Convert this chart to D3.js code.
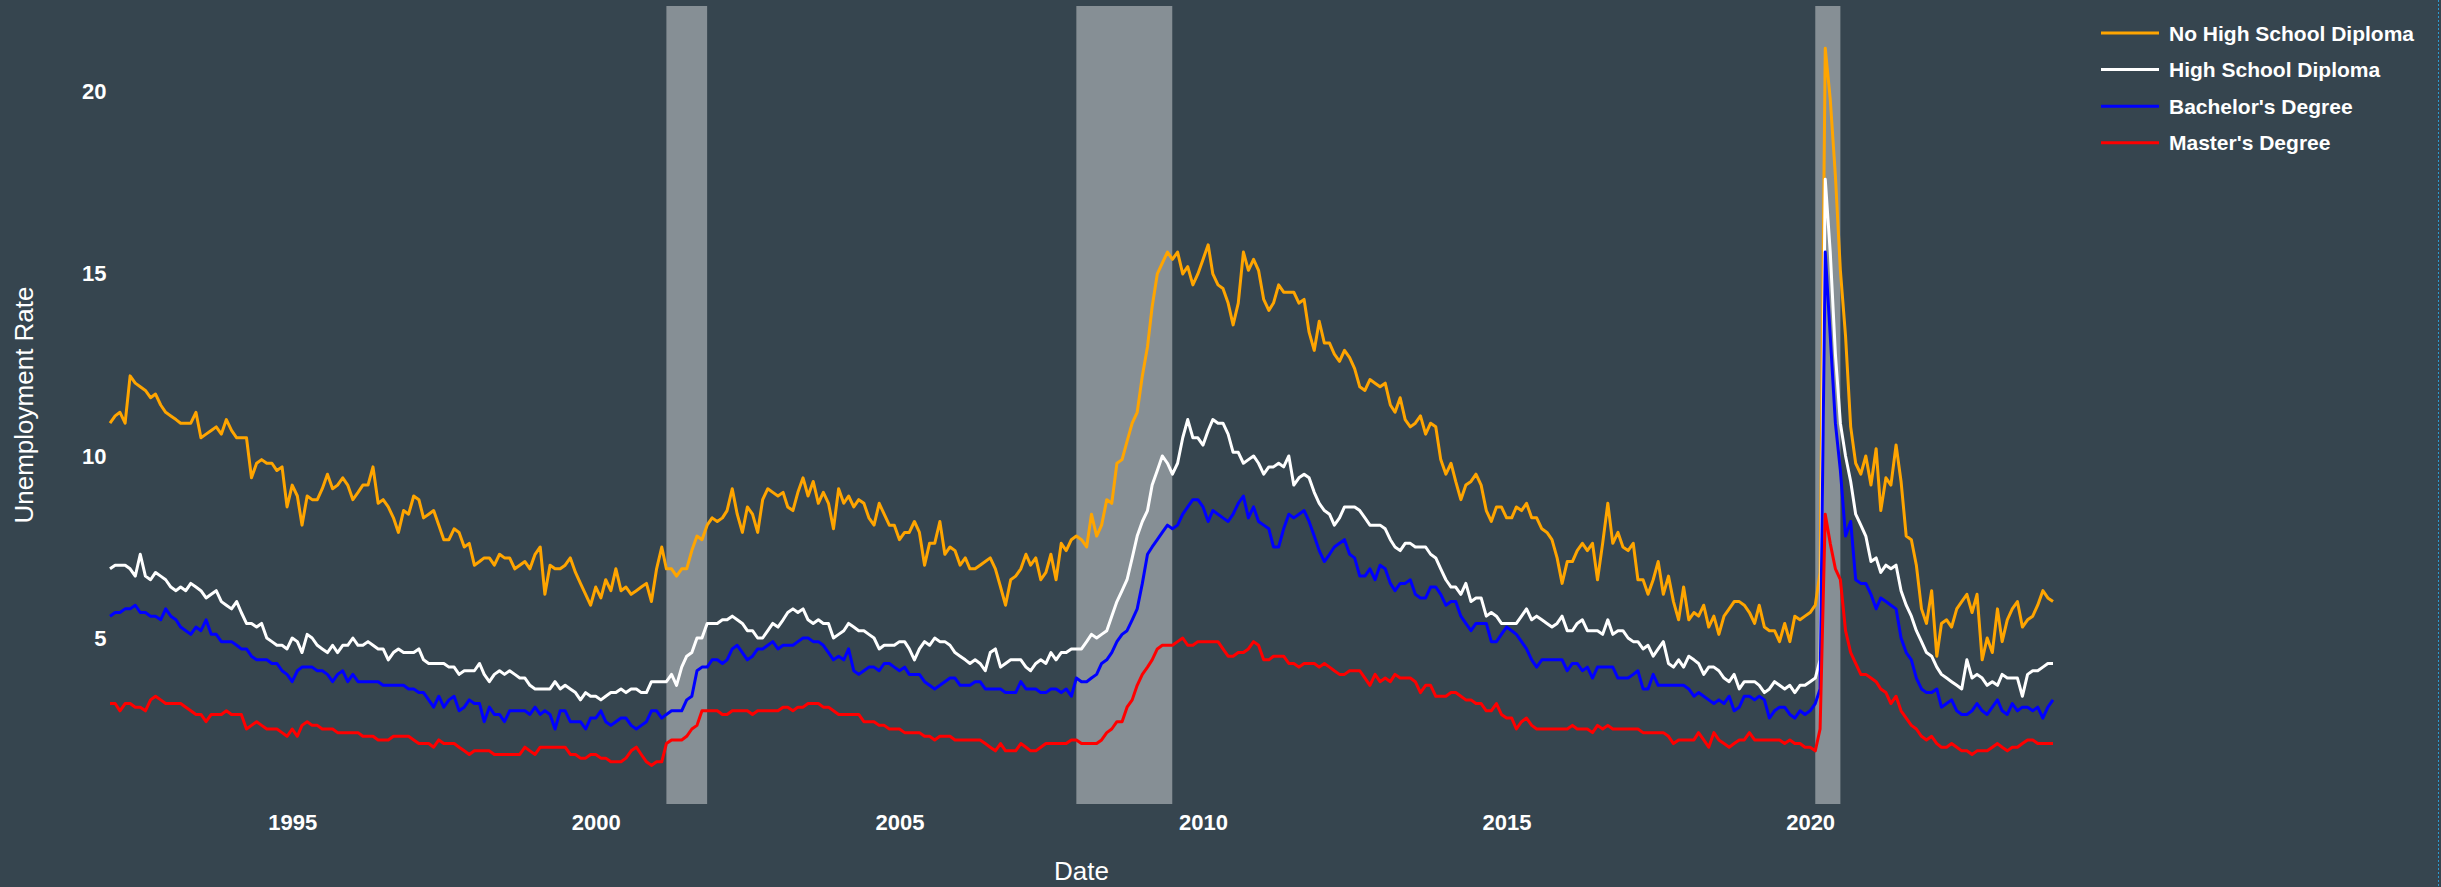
<!DOCTYPE html>
<html>
<head>
<meta charset="utf-8">
<script src="https://cdn.jsdelivr.net/npm/d3@7"></script>
<style>
  body { margin: 0; background: #36454f; overflow: hidden; }
  svg { display: block; }
  text { font-family: "Liberation Sans", Arial, sans-serif; fill: #ffffff; }
</style>
</head>
<body>
<div id="chart"></div>
<script>
// monthly series, Jan 1992 .. Jan 2024 (one line per year)
const firstMonth = "1992-01-01"
const lastMonth = "2024-01-01"

const noHighSchool = [
  10.9, 11.1, 11.2, 10.9, 12.2, 12.0, 11.9, 11.8, 11.6, 11.7, 11.4, 11.2,
  11.1, 11.0, 10.9, 10.9, 10.9, 11.2, 10.5, 10.6, 10.7, 10.8, 10.6, 11.0,
  10.7, 10.5, 10.5, 10.5, 9.4, 9.8, 9.9, 9.8, 9.8, 9.6, 9.7, 8.6,
  9.2, 8.9, 8.1, 8.9, 8.8, 8.8, 9.1, 9.5, 9.1, 9.2, 9.4, 9.2,
  8.8, 9.0, 9.2, 9.2, 9.7, 8.7, 8.8, 8.6, 8.3, 7.9, 8.5, 8.4,
  8.9, 8.8, 8.3, 8.4, 8.5, 8.1, 7.7, 7.7, 8.0, 7.9, 7.5, 7.6,
  7.0, 7.1, 7.2, 7.2, 7.0, 7.3, 7.2, 7.2, 6.9, 7.0, 7.1, 6.9,
  7.3, 7.5, 6.2, 7.0, 6.9, 6.9, 7.0, 7.2, 6.8, 6.5, 6.2, 5.9,
  6.4, 6.1, 6.6, 6.3, 6.9, 6.3, 6.4, 6.2, 6.3, 6.4, 6.5, 6.0,
  6.9, 7.5, 6.9, 6.9, 6.7, 6.9, 6.9, 7.4, 7.8, 7.7, 8.1, 8.3,
  8.2, 8.3, 8.5, 9.1, 8.4, 7.9, 8.6, 8.4, 7.9, 8.8, 9.1, 9.0,
  8.9, 9.0, 8.6, 8.5, 9.0, 9.4, 8.9, 9.3, 8.7, 9.0, 8.7, 8.0,
  9.1, 8.7, 8.9, 8.6, 8.8, 8.7, 8.3, 8.1, 8.7, 8.4, 8.1, 8.1,
  7.7, 7.9, 7.9, 8.2, 7.9, 7.0, 7.6, 7.6, 8.2, 7.3, 7.5, 7.4,
  7.0, 7.2, 6.9, 6.9, 7.0, 7.1, 7.2, 6.9, 6.4, 5.9, 6.6, 6.7,
  6.9, 7.3, 7.0, 7.2, 6.6, 6.8, 7.3, 6.6, 7.6, 7.4, 7.7, 7.8,
  7.7, 7.5, 8.4, 7.8, 8.1, 8.8, 8.7, 9.8, 9.9, 10.4, 10.9, 11.2,
  12.2, 13.0, 14.1, 15.0, 15.3, 15.6, 15.4, 15.6, 15.0, 15.2, 14.7, 15.0,
  15.4, 15.8, 15.0, 14.7, 14.6, 14.2, 13.6, 14.2, 15.6, 15.1, 15.4, 15.1,
  14.3, 14.0, 14.2, 14.7, 14.5, 14.5, 14.5, 14.2, 14.3, 13.4, 12.9, 13.7,
  13.1, 13.1, 12.8, 12.6, 12.9, 12.7, 12.4, 11.9, 11.8, 12.1, 12.0, 11.9,
  12.0, 11.4, 11.2, 11.6, 11.0, 10.8, 10.9, 11.1, 10.6, 10.9, 10.8, 9.9,
  9.5, 9.8, 9.3, 8.8, 9.2, 9.3, 9.5, 9.2, 8.5, 8.2, 8.6, 8.6,
  8.3, 8.3, 8.6, 8.5, 8.7, 8.3, 8.3, 8.0, 7.9, 7.7, 7.2, 6.5,
  7.1, 7.1, 7.4, 7.6, 7.4, 7.6, 6.6, 7.6, 8.7, 7.6, 7.9, 7.5,
  7.4, 7.6, 6.6, 6.6, 6.2, 6.6, 7.1, 6.2, 6.7, 6.0, 5.5, 6.4,
  5.5, 5.7, 5.6, 5.9, 5.3, 5.6, 5.1, 5.6, 5.8, 6.0, 6.0, 5.9,
  5.7, 5.4, 5.9, 5.3, 5.2, 5.2, 4.9, 5.4, 4.9, 5.6, 5.5, 5.6,
  5.7, 5.9, 6.8, 21.2, 19.8, 17.7, 15.1, 13.3, 10.8, 9.8, 9.5, 10.0,
  9.2, 10.2, 8.5, 9.4, 9.2, 10.3, 9.3, 7.8, 7.7, 7.0, 5.8, 5.4,
  6.3, 4.5, 5.4, 5.5, 5.3, 5.8, 6.0, 6.2, 5.7, 6.2, 4.4, 5.0,
  4.6, 5.8, 4.9, 5.5, 5.8, 6.0, 5.3, 5.5, 5.6, 5.9, 6.3, 6.1,
  6.0
]

const highSchool = [
  6.9, 7.0, 7.0, 7.0, 6.9, 6.7, 7.3, 6.7, 6.6, 6.8, 6.7, 6.6,
  6.4, 6.3, 6.4, 6.3, 6.5, 6.4, 6.3, 6.1, 6.2, 6.3, 6.0, 5.9,
  5.8, 6.0, 5.7, 5.4, 5.4, 5.3, 5.4, 5.0, 4.9, 4.8, 4.8, 4.7,
  5.0, 4.9, 4.6, 5.1, 5.0, 4.8, 4.7, 4.6, 4.8, 4.6, 4.8, 4.8,
  5.0, 4.8, 4.8, 4.9, 4.8, 4.7, 4.7, 4.4, 4.6, 4.7, 4.6, 4.6,
  4.6, 4.7, 4.4, 4.3, 4.3, 4.3, 4.3, 4.2, 4.2, 4.0, 4.1, 4.1,
  4.1, 4.3, 4.0, 3.8, 4.0, 4.1, 4.0, 4.1, 4.0, 3.9, 3.9, 3.7,
  3.6, 3.6, 3.6, 3.6, 3.8, 3.6, 3.7, 3.6, 3.5, 3.3, 3.5, 3.4,
  3.4, 3.3, 3.4, 3.5, 3.5, 3.6, 3.5, 3.6, 3.6, 3.5, 3.5, 3.8,
  3.8, 3.8, 3.8, 4.0, 3.7, 4.2, 4.5, 4.6, 5.0, 5.0, 5.4, 5.4,
  5.4, 5.5, 5.5, 5.6, 5.5, 5.4, 5.2, 5.2, 5.0, 5.0, 5.2, 5.4,
  5.3, 5.5, 5.7, 5.8, 5.7, 5.8, 5.5, 5.4, 5.5, 5.4, 5.4, 5.0,
  5.1, 5.2, 5.4, 5.3, 5.2, 5.2, 5.1, 5.0, 4.7, 4.8, 4.8, 4.8,
  4.9, 4.9, 4.7, 4.4, 4.7, 4.9, 4.8, 5.0, 4.9, 4.9, 4.8, 4.6,
  4.5, 4.4, 4.3, 4.4, 4.3, 4.1, 4.6, 4.7, 4.2, 4.3, 4.4, 4.4,
  4.4, 4.2, 4.1, 4.3, 4.4, 4.3, 4.6, 4.4, 4.6, 4.6, 4.7, 4.7,
  4.7, 4.9, 5.1, 5.0, 5.1, 5.2, 5.6, 6.0, 6.3, 6.6, 7.2, 7.8,
  8.2, 8.5, 9.2, 9.6, 10.0, 9.8, 9.5, 9.8, 10.5, 11.0, 10.5, 10.5,
  10.3, 10.7, 11.0, 10.9, 10.9, 10.6, 10.1, 10.1, 9.8, 9.9, 10.0, 9.8,
  9.5, 9.7, 9.7, 9.8, 9.7, 10.0, 9.2, 9.4, 9.5, 9.4, 9.0, 8.7,
  8.5, 8.4, 8.1, 8.3, 8.6, 8.6, 8.6, 8.5, 8.3, 8.1, 8.1, 8.1,
  8.0, 7.7, 7.5, 7.4, 7.6, 7.6, 7.5, 7.5, 7.5, 7.3, 7.2, 6.9,
  6.6, 6.4, 6.4, 6.2, 6.5, 6.0, 6.1, 6.1, 5.6, 5.7, 5.6, 5.4,
  5.4, 5.4, 5.4, 5.6, 5.8, 5.5, 5.6, 5.5, 5.4, 5.3, 5.4, 5.6,
  5.2, 5.2, 5.4, 5.5, 5.2, 5.2, 5.2, 5.1, 5.5, 5.1, 5.2, 5.2,
  5.0, 4.9, 4.9, 4.7, 4.8, 4.5, 4.7, 4.9, 4.3, 4.2, 4.4, 4.2,
  4.5, 4.4, 4.3, 4.0, 4.2, 4.2, 4.1, 3.9, 3.8, 4.0, 3.6, 3.8,
  3.8, 3.8, 3.7, 3.5, 3.6, 3.8, 3.7, 3.6, 3.7, 3.5, 3.7, 3.7,
  3.8, 3.9, 4.4, 17.6, 15.6, 12.8, 10.9, 10.0, 9.3, 8.4, 8.1, 7.8,
  7.1, 7.2, 6.8, 7.0, 6.9, 7.0, 6.3, 5.9, 5.6, 5.2, 4.9, 4.6,
  4.5, 4.2, 4.0, 3.9, 3.8, 3.7, 3.6, 4.4, 3.9, 4.0, 3.9, 3.7,
  3.8, 3.7, 4.0, 3.9, 3.9, 3.9, 3.4, 4.0, 4.1, 4.1, 4.2, 4.3,
  4.3
]

const bachelors = [
  5.6, 5.7, 5.7, 5.8, 5.8, 5.9, 5.7, 5.7, 5.6, 5.6, 5.5, 5.8,
  5.6, 5.5, 5.3, 5.2, 5.1, 5.3, 5.2, 5.5, 5.1, 5.1, 4.9, 4.9,
  4.9, 4.8, 4.7, 4.7, 4.5, 4.4, 4.4, 4.4, 4.3, 4.3, 4.1, 4.0,
  3.8, 4.1, 4.2, 4.2, 4.2, 4.1, 4.1, 4.0, 3.8, 4.0, 4.1, 3.8,
  4.0, 3.8, 3.8, 3.8, 3.8, 3.8, 3.7, 3.7, 3.7, 3.7, 3.7, 3.6,
  3.6, 3.5, 3.5, 3.3, 3.1, 3.4, 3.1, 3.3, 3.4, 3.0, 3.1, 3.3,
  3.2, 3.2, 2.7, 3.1, 2.9, 2.9, 2.7, 3.0, 3.0, 3.0, 3.0, 2.9,
  3.1, 2.9, 3.0, 2.9, 2.5, 3.0, 3.0, 2.7, 2.7, 2.7, 2.5, 2.8,
  2.8, 3.0, 2.7, 2.6, 2.7, 2.8, 2.8, 2.6, 2.5, 2.6, 2.7, 3.0,
  3.0, 2.8, 2.9, 3.0, 3.0, 3.0, 3.3, 3.4, 4.1, 4.2, 4.2, 4.4,
  4.4, 4.3, 4.4, 4.7, 4.8, 4.6, 4.4, 4.5, 4.7, 4.7, 4.8, 4.9,
  4.7, 4.8, 4.8, 4.8, 4.9, 5.0, 5.0, 4.9, 4.9, 4.8, 4.6, 4.4,
  4.5, 4.4, 4.7, 4.1, 4.0, 4.1, 4.2, 4.2, 4.1, 4.3, 4.3, 4.2,
  4.1, 4.2, 4.0, 4.0, 4.0, 3.8, 3.7, 3.6, 3.7, 3.8, 3.9, 3.9,
  3.7, 3.7, 3.7, 3.8, 3.8, 3.6, 3.6, 3.6, 3.6, 3.5, 3.5, 3.5,
  3.8, 3.6, 3.6, 3.6, 3.5, 3.5, 3.6, 3.6, 3.5, 3.6, 3.4, 3.9,
  3.8, 3.8, 3.9, 4.0, 4.3, 4.4, 4.6, 4.9, 5.1, 5.2, 5.5, 5.8,
  6.5, 7.3, 7.5, 7.7, 7.9, 8.1, 8.0, 8.1, 8.4, 8.6, 8.8, 8.8,
  8.6, 8.2, 8.5, 8.4, 8.3, 8.2, 8.4, 8.7, 8.9, 8.3, 8.6, 8.2,
  8.1, 8.0, 7.5, 7.5, 8.0, 8.4, 8.3, 8.4, 8.5, 8.2, 7.8, 7.4,
  7.1, 7.3, 7.5, 7.6, 7.7, 7.3, 7.2, 6.7, 6.7, 6.9, 6.6, 7.0,
  6.9, 6.5, 6.3, 6.5, 6.5, 6.6, 6.2, 6.1, 6.1, 6.4, 6.4, 6.2,
  5.9, 6.0, 6.0, 5.6, 5.4, 5.2, 5.4, 5.4, 5.4, 4.9, 4.9, 5.1,
  5.3, 5.2, 5.1, 4.9, 4.7, 4.4, 4.2, 4.4, 4.4, 4.4, 4.4, 4.4,
  4.1, 4.3, 4.3, 4.1, 4.2, 3.9, 4.2, 4.2, 4.2, 4.2, 3.9, 3.9,
  3.9, 4.0, 4.1, 3.6, 3.6, 4.0, 3.7, 3.7, 3.7, 3.7, 3.7, 3.7,
  3.6, 3.4, 3.5, 3.4, 3.3, 3.2, 3.3, 3.2, 3.4, 3.0, 3.1, 3.4,
  3.4, 3.3, 3.4, 3.3, 2.8, 3.0, 3.1, 3.1, 2.9, 2.8, 3.0, 2.9,
  3.0, 3.2, 3.6, 15.6, 13.3, 10.9, 9.6, 7.8, 8.2, 6.6, 6.5, 6.5,
  6.2, 5.8, 6.1, 6.0, 5.9, 5.8, 5.0, 4.6, 4.4, 3.9, 3.6, 3.5,
  3.5, 3.6, 3.1, 3.2, 3.3, 3.0, 2.9, 2.9, 3.0, 3.2, 3.0, 2.9,
  3.1, 3.3, 3.0, 2.9, 3.2, 3.0, 3.1, 3.1, 3.0, 3.1, 2.8, 3.1,
  3.3
]

const masters = [
  3.2, 3.2, 3.0, 3.2, 3.2, 3.1, 3.1, 3.0, 3.3, 3.4, 3.3, 3.2,
  3.2, 3.2, 3.2, 3.1, 3.0, 2.9, 2.9, 2.7, 2.9, 2.9, 2.9, 3.0,
  2.9, 2.9, 2.9, 2.5, 2.6, 2.7, 2.6, 2.5, 2.5, 2.5, 2.4, 2.3,
  2.5, 2.3, 2.6, 2.7, 2.6, 2.6, 2.5, 2.5, 2.5, 2.4, 2.4, 2.4,
  2.4, 2.4, 2.3, 2.3, 2.3, 2.2, 2.2, 2.2, 2.3, 2.3, 2.3, 2.3,
  2.2, 2.1, 2.1, 2.1, 2.0, 2.2, 2.1, 2.1, 2.1, 2.0, 1.9, 1.8,
  1.9, 1.9, 1.9, 1.9, 1.8, 1.8, 1.8, 1.8, 1.8, 1.8, 2.0, 1.9,
  1.8, 2.0, 2.0, 2.0, 2.0, 2.0, 2.0, 1.8, 1.8, 1.7, 1.7, 1.8,
  1.8, 1.7, 1.7, 1.6, 1.6, 1.6, 1.7, 1.9, 2.0, 1.8, 1.6, 1.5,
  1.6, 1.6, 2.1, 2.2, 2.2, 2.2, 2.3, 2.5, 2.6, 3.0, 3.0, 3.0,
  3.0, 2.9, 2.9, 3.0, 3.0, 3.0, 3.0, 2.9, 3.0, 3.0, 3.0, 3.0,
  3.0, 3.1, 3.1, 3.0, 3.1, 3.1, 3.2, 3.2, 3.2, 3.1, 3.1, 3.0,
  2.9, 2.9, 2.9, 2.9, 2.9, 2.7, 2.7, 2.7, 2.6, 2.6, 2.5, 2.5,
  2.5, 2.4, 2.4, 2.4, 2.4, 2.3, 2.3, 2.2, 2.3, 2.3, 2.3, 2.2,
  2.2, 2.2, 2.2, 2.2, 2.2, 2.1, 2.0, 1.9, 2.1, 1.9, 1.9, 1.9,
  2.1, 2.0, 1.9, 1.9, 2.0, 2.1, 2.1, 2.1, 2.1, 2.1, 2.2, 2.2,
  2.1, 2.1, 2.1, 2.1, 2.2, 2.4, 2.5, 2.7, 2.7, 3.1, 3.3, 3.7,
  4.0, 4.2, 4.4, 4.7, 4.8, 4.8, 4.8, 4.9, 5.0, 4.8, 4.8, 4.9,
  4.9, 4.9, 4.9, 4.9, 4.7, 4.5, 4.5, 4.6, 4.6, 4.7, 4.9, 4.8,
  4.4, 4.4, 4.5, 4.5, 4.5, 4.3, 4.3, 4.2, 4.3, 4.3, 4.3, 4.2,
  4.3, 4.2, 4.1, 4.0, 4.0, 4.1, 4.1, 4.1, 3.9, 3.7, 4.0, 3.8,
  3.9, 3.8, 4.0, 3.9, 3.9, 3.9, 3.8, 3.5, 3.7, 3.7, 3.4, 3.4,
  3.4, 3.5, 3.5, 3.4, 3.3, 3.3, 3.2, 3.2, 3.0, 3.0, 3.2, 2.9,
  2.8, 2.8, 2.5, 2.7, 2.8, 2.6, 2.5, 2.5, 2.5, 2.5, 2.5, 2.5,
  2.5, 2.6, 2.5, 2.5, 2.5, 2.4, 2.6, 2.5, 2.6, 2.5, 2.5, 2.5,
  2.5, 2.5, 2.5, 2.4, 2.4, 2.4, 2.4, 2.4, 2.3, 2.1, 2.2, 2.2,
  2.2, 2.2, 2.4, 2.2, 2.0, 2.4, 2.2, 2.1, 2.0, 2.1, 2.2, 2.2,
  2.4, 2.2, 2.2, 2.2, 2.2, 2.2, 2.2, 2.1, 2.2, 2.1, 2.1, 2.0,
  2.0, 1.9, 2.5, 8.4, 7.6, 6.9, 6.6, 5.2, 4.6, 4.3, 4.0, 4.0,
  3.9, 3.8, 3.6, 3.5, 3.2, 3.4, 3.0, 2.8, 2.6, 2.5, 2.3, 2.2,
  2.3, 2.1, 2.0, 2.0, 2.1, 2.0, 1.9, 1.9, 1.8, 1.9, 1.9, 1.9,
  2.0, 2.1, 2.0, 1.9, 2.0, 2.0, 2.1, 2.2, 2.2, 2.1, 2.1, 2.1,
  2.1
]

const seriesNames = ["No High School Diploma", "High School Diploma", "Bachelor's Degree", "Master's Degree"]
const seriesColors = ["orange", "white", "blue", "red"]
const recessions = [["2001-03-01", "2001-11-01"], ["2007-12-01", "2009-06-30"], ["2020-02-01", "2020-07-01"]]
const xTickYears = [1995, 2000, 2005, 2010, 2015, 2020]
const yTickValues = [5, 10, 15, 20]

const width = 2441, height = 887
const margin = {top: 6, right: 388, bottom: 83, left: 110}
const parse = d3.timeParse("%Y-%m-%d")

const months = d3.timeMonth.range(parse(firstMonth), d3.timeMonth.offset(parse(lastMonth), 1))
const allSeries = [noHighSchool, highSchool, bachelors, masters].map(function(vals, i) {
    return {name: seriesNames[i], color: seriesColors[i],
            values: vals.map(function(v, j) { return {date: months[j], value: v} })}
})

const svg = d3.select("#chart").append("svg")
    .attr("width", width)
    .attr("height", height)

svg.append("rect").attr("width", width).attr("height", height).attr("fill", "#36454f")

const x = d3.scaleTime()
    .domain([parse(firstMonth), parse(lastMonth)])
    .range([margin.left, width - margin.right])

const y = d3.scaleLinear()
    .domain([0.44, 22.36])
    .range([height - margin.bottom, margin.top])

// recession shading
svg.append("g").selectAll("rect")
    .data(recessions)
    .join("rect")
    .attr("x", function(d) { return x(parse(d[0])) })
    .attr("width", function(d) { return x(parse(d[1])) - x(parse(d[0])) })
    .attr("y", y.range()[1])
    .attr("height", y.range()[0] - y.range()[1])
    .attr("fill", "#ffffff")
    .attr("fill-opacity", 0.4)

// axes
const xAxis = svg.append("g")
    .attr("transform", "translate(0," + (height - margin.bottom) + ")")
    .call(d3.axisBottom(x)
        .tickValues(xTickYears.map(function(yr) { return new Date(yr, 0, 1) }))
        .tickFormat(d3.timeFormat("%Y"))
        .tickSize(0)
        .tickPadding(10))
xAxis.select(".domain").remove()

const yAxis = svg.append("g")
    .attr("transform", "translate(" + margin.left + ",0)")
    .call(d3.axisLeft(y).tickValues(yTickValues).tickSize(0).tickPadding(3.5))
yAxis.select(".domain").remove()

svg.selectAll(".tick text")
    .attr("fill", "#ffffff")
    .style("font-size", "22px")
    .style("font-weight", "bold")
    .style("font-family", "'Liberation Sans', Arial, sans-serif")

// axis titles
svg.append("text")
    .attr("x", (x.range()[0] + x.range()[1]) / 2)
    .attr("y", 880)
    .attr("text-anchor", "middle")
    .style("font-size", "26px")
    .text("Date")

svg.append("text")
    .attr("transform", "translate(33," + ((y.range()[0] + y.range()[1]) / 2) + ") rotate(-90)")
    .attr("text-anchor", "middle")
    .style("font-size", "26px")
    .text("Unemployment Rate")

// lines
const line = d3.line()
    .x(function(d) { return x(d.date) })
    .y(function(d) { return y(d.value) })

svg.append("g").selectAll("path")
    .data(allSeries)
    .join("path")
    .attr("fill", "none")
    .attr("stroke", function(d) { return d.color })
    .attr("stroke-width", 3)
    .attr("stroke-linejoin", "round")
    .attr("d", function(d) { return line(d.values) })

// legend
const legend = svg.append("g").selectAll("g")
    .data(allSeries)
    .join("g")
    .attr("transform", function(d, i) { return "translate(2101," + (33 + i * 36.6) + ")" })

legend.append("line")
    .attr("x1", 0).attr("x2", 58)
    .attr("stroke", function(d) { return d.color })
    .attr("stroke-width", 3)

legend.append("text")
    .attr("x", 68)
    .attr("y", 7.5)
    .style("font-size", "21px")
    .style("font-weight", "bold")
    .text(function(d) { return d.name })

// dotted edge at the right side of the frame
svg.append("line")
    .attr("x1", 2438.5).attr("x2", 2438.5)
    .attr("y1", 0).attr("y2", height)
    .attr("stroke", "#2c9ad1")
    .attr("stroke-width", 1)
    .attr("stroke-dasharray", "2,2")
</script>
</body>
</html>
